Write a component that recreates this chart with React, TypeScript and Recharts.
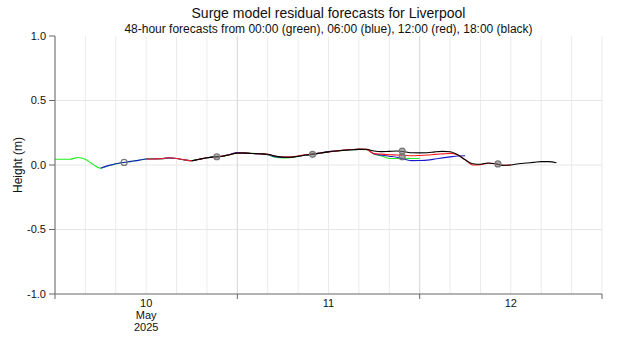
import {
  ComposedChart,
  Line,
  Scatter,
  XAxis,
  YAxis,
  CartesianGrid,
  ReferenceLine,
} from "recharts";

// hours since 10 May 2025 00:00, one value per hour from each run's start
const greenStart = 0;
const blueStart = 6;
const redStart = 12;
const blackStart = 18;

const greenValues = [
  0.044, 0.044, 0.045, 0.058, 0.045, 0.005, -0.025, -0.006, 0.009, 0.02,
  0.028, 0.036, 0.046, 0.05, 0.049, 0.054, 0.05, 0.04, 0.034, 0.045,
  0.056, 0.063, 0.068, 0.08, 0.093, 0.093, 0.09, 0.088, 0.08, 0.06,
  0.054, 0.057, 0.067, 0.077, 0.084, 0.093, 0.102, 0.108, 0.113, 0.118,
  0.121, 0.118, 0.085, 0.07, 0.05, 0.05, 0.052, 0.05, 0.05,
];
const blueValues = [
  -0.025, -0.005, 0.01, 0.02, 0.028, 0.036, 0.046, 0.047, 0.048, 0.055,
  0.05, 0.04, 0.033, 0.045, 0.056, 0.063, 0.068, 0.082, 0.097, 0.094,
  0.089, 0.086, 0.08, 0.064, 0.058, 0.06, 0.068, 0.077, 0.084, 0.095,
  0.104, 0.109, 0.114, 0.118, 0.122, 0.12, 0.085, 0.076, 0.068, 0.06,
  0.045, 0.034, 0.035, 0.038, 0.046, 0.055, 0.063, 0.07, 0.072,
];
const redValues = [
  0.046, 0.047, 0.049, 0.056, 0.05, 0.041, 0.033, 0.045, 0.056, 0.063,
  0.069, 0.08, 0.093, 0.093, 0.089, 0.087, 0.083, 0.068, 0.062, 0.063,
  0.07, 0.079, 0.086, 0.093, 0.102, 0.108, 0.115, 0.12, 0.123, 0.121,
  0.088, 0.084, 0.08, 0.078, 0.075, 0.072, 0.074, 0.077, 0.082, 0.086,
  0.09, 0.08, 0.04, 0.0, 0.002, 0.014, 0.01, -0.003, 0.0,
];
const blackValues = [
  0.033, 0.045, 0.056, 0.063, 0.068, 0.08, 0.092, 0.092, 0.089, 0.087,
  0.083, 0.069, 0.061, 0.06, 0.068, 0.077, 0.084, 0.093, 0.102, 0.108,
  0.114, 0.118, 0.121, 0.122, 0.108, 0.104, 0.106, 0.108, 0.103, 0.095,
  0.094, 0.095, 0.102, 0.106, 0.103, 0.08, 0.04, 0.01, 0.006, 0.016,
  0.01, -0.002, 0.0, 0.01, 0.016, 0.02, 0.026, 0.026, 0.018,
];

// high water markers
const openHwHours = [9.1];
const openHwValues = [0.02];
const hwHours = [21.3, 33.9, 45.7, 45.7, 58.3];
const hwValues = [0.064, 0.083, 0.108, 0.064, 0.008];

const xTicks = [0, 4, 8, 12, 16, 20, 24, 28, 32, 36, 40, 44, 48, 52, 56, 60, 64, 68, 72];
const dayBoundaries = [24, 48];
const yTicks = [-1, -0.5, 0, 0.5, 1];
const yGrid = [-0.5, 0, 0.5];
const dayLabels = ["10", "11", "12"];
const monthLabel = "May";
const yearLabel = "2025";

const FONT = "'Liberation Sans', Arial, sans-serif";

const runs = [
  { key: "green", start: greenStart, values: greenValues },
  { key: "blue", start: blueStart, values: blueValues },
  { key: "red", start: redStart, values: redValues },
  { key: "black", start: blackStart, values: blackValues },
];

const rows = Array.from({ length: 67 }, (_, h) => {
  const row: Record<string, number | null> = { h };
  runs.forEach((r) => {
    const i = h - r.start;
    row[r.key] = i >= 0 && i < r.values.length ? r.values[i] : null;
  });
  return row;
});

const openHw = openHwHours.map((h, i) => ({ h, v: openHwValues[i] }));
const filledHw = hwHours.map((h, i) => ({ h, v: hwValues[i] }));

function DayTick(props: any) {
  const { x, y, payload } = props;
  const h = payload.value;
  const isMajor = h % 24 === 0;
  const isLabel = h % 24 === 12;
  const day = Math.floor(h / 24);
  return (
    <g>
      {isMajor && <line x1={x} x2={x} y1={y} y2={y + 5} stroke="#666" />}
      {isLabel && (
        <text x={x} y={y + 13} textAnchor="middle" fontSize={11} fill="#111" fontFamily={FONT}>
          <tspan x={x}>{dayLabels[day]}</tspan>
          {day === 0 && (
            <>
              <tspan x={x} dy={12}>{monthLabel}</tspan>
              <tspan x={x} dy={12}>{yearLabel}</tspan>
            </>
          )}
        </text>
      )}
    </g>
  );
}

function hwShape(filled: boolean) {
  return (p: any) => (
    <circle
      cx={p.cx}
      cy={p.cy}
      r={3}
      fill={filled ? "rgba(120,120,120,0.6)" : "none"}
      stroke="#777"
      strokeWidth={1.2}
    />
  );
}

export default function App() {
  return (
    <div style={{ position: "absolute", left: 0, top: 0, width: 620, height: 350, background: "#fff", fontFamily: FONT }}>
      <div style={{ position: "absolute", left: 55, width: 547, top: 5, textAlign: "center", fontSize: 14, color: "#111" }}>
        Surge model residual forecasts for Liverpool
      </div>
      <div style={{ position: "absolute", left: 55, width: 547, top: 22, textAlign: "center", fontSize: 12, color: "#111" }}>
        48-hour forecasts from 00:00 (green), 06:00 (blue), 12:00 (red), 18:00 (black)
      </div>
      <div
        style={{
          position: "absolute",
          left: 18,
          top: 165,
          fontSize: 12,
          color: "#111",
          whiteSpace: "nowrap",
          transform: "translate(-50%, -50%) rotate(-90deg)",
        }}
      >
        Height (m)
      </div>
      <ComposedChart
        width={620}
        height={350}
        data={rows}
        margin={{ top: 36, right: 18, bottom: 0, left: 0 }}
        style={{ position: "absolute", left: 0, top: 0 }}
      >
        <CartesianGrid horizontal={false} stroke="#ebebeb" />
        {yGrid.map((v) => (
          <ReferenceLine key={"y" + v} y={v} stroke="#e6e6e6" />
        ))}
        {dayBoundaries.map((v) => (
          <ReferenceLine key={"d" + v} x={v} stroke="#dadada" />
        ))}
        <XAxis
          dataKey="h"
          type="number"
          domain={[0, 72]}
          ticks={xTicks}
          interval={0}
          tickLine={false}
          tickSize={0}
          tickMargin={0}
          height={56}
          axisLine={{ stroke: "#666" }}
          tick={<DayTick />}
        />
        <YAxis
          type="number"
          domain={[-1, 1]}
          ticks={yTicks}
          interval={0}
          width={55}
          tickSize={6}
          tickMargin={3}
          axisLine={{ stroke: "#666" }}
          tickLine={{ stroke: "#666" }}
          tick={{ fontSize: 11, fill: "#111", fontFamily: FONT }}
          tickFormatter={(v) => v.toFixed(1)}
        />
        <Line dataKey="green" type="monotone" stroke="#22ee22" strokeWidth={1.1} dot={false} isAnimationActive={false} />
        <Line dataKey="blue" type="monotone" stroke="#1a1acc" strokeWidth={1.1} dot={false} isAnimationActive={false} />
        <Line dataKey="red" type="monotone" stroke="#ff1a1a" strokeWidth={1.1} dot={false} isAnimationActive={false} />
        <Line dataKey="black" type="monotone" stroke="#000" strokeWidth={1.1} dot={false} isAnimationActive={false} />
        <Scatter data={openHw} dataKey="v" shape={hwShape(false)} isAnimationActive={false} />
        <Scatter data={filledHw} dataKey="v" shape={hwShape(true)} isAnimationActive={false} />
      </ComposedChart>
    </div>
  );
}
